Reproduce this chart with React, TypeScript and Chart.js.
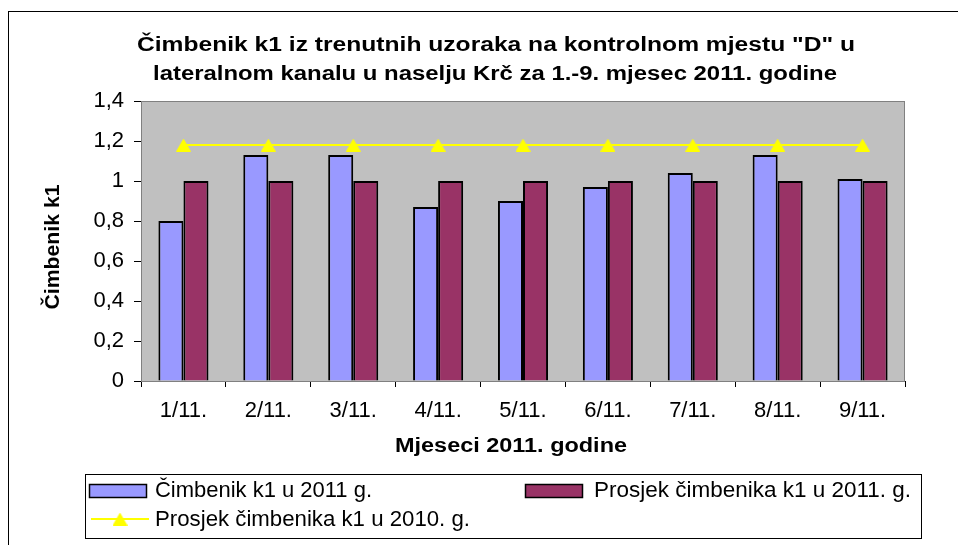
import React, { useEffect, useRef } from "react";
import { Chart, registerables } from "chart.js";
Chart.register(...registerables);

const categories = ["1/11.", "2/11.", "3/11.", "4/11.", "5/11.", "6/11.", "7/11.", "8/11.", "9/11."];
const k1Values2011 = [0.8, 1.13, 1.13, 0.87, 0.9, 0.97, 1.04, 1.13, 1.01];
const avgK1_2011 = [1, 1, 1, 1, 1, 1, 1, 1, 1];
const avgK1_2010 = [1.18, 1.18, 1.18, 1.18, 1.18, 1.18, 1.18, 1.18, 1.18];
const seriesNames = [
  "Čimbenik k1 u 2011 g.",
  "Prosjek čimbenika k1 u 2011. g.",
  "Prosjek čimbenika k1 u 2010. g.",
];
const titleLines = [
  "Čimbenik k1 iz trenutnih uzoraka na kontrolnom mjestu \"D\" u",
  "lateralnom kanalu u naselju Krč za 1.-9. mjesec 2011. godine",
];
const yAxisTitle = "Čimbenik k1";
const xAxisTitle = "Mjeseci 2011. godine";
const yMin = 0;
const yMax = 1.4;
const yStep = 0.2;

const FONT = '"Liberation Sans", Arial, sans-serif';
const BLUE = "#9999FF";
const MAROON = "#993366";
const YELLOW = "#FFFF00";

function makeTriangle(): HTMLCanvasElement {
  const c = document.createElement("canvas");
  c.width = 15;
  c.height = 13;
  const g = c.getContext("2d")!;
  g.fillStyle = YELLOW;
  g.beginPath();
  g.moveTo(7.5, 0);
  g.lineTo(15, 13);
  g.lineTo(0, 13);
  g.closePath();
  g.fill();
  return c;
}

function drawFitText(ctx: CanvasRenderingContext2D, text: string, cx: number, cy: number, font: string, target: number, rotate = 0, align: "center" | "left" = "center") {
  ctx.save();
  ctx.font = font;
  const w = ctx.measureText(text).width;
  ctx.translate(cx, cy);
  if (rotate) ctx.rotate(rotate);
  ctx.scale(target / w, 1);
  ctx.textAlign = align;
  ctx.textBaseline = "middle";
  ctx.fillStyle = "#000";
  ctx.fillText(text, 0, 0);
  ctx.restore();
}

const triangleImg = typeof document !== "undefined" ? makeTriangle() : (null as any);

const decorPlugin = {
  id: "decor",
  beforeDatasetsDraw(chart: any) {
    const { ctx, chartArea: a } = chart;
    ctx.save();
    ctx.fillStyle = "#C0C0C0";
    ctx.fillRect(a.left, a.top, a.right - a.left, a.bottom - a.top);
    ctx.strokeStyle = "#808080";
    ctx.lineWidth = 1;
    ctx.strokeRect(a.left + 0.5, a.top + 0.5, a.right - a.left - 1, a.bottom - a.top);
    ctx.restore();
  },
  afterDraw(chart: any) {
    const ctx: CanvasRenderingContext2D = chart.ctx;
    ctx.save();
    // outer frame
    ctx.strokeStyle = "#000";
    ctx.lineWidth = 1;
    ctx.strokeRect(8.5, 11.5, 3000, 3000);
    // title
    drawFitText(ctx, titleLines[0], 496, 45, `bold 20px ${FONT}`, 718);
    drawFitText(ctx, titleLines[1], 495, 74, `bold 20px ${FONT}`, 684);
    // axis titles
    drawFitText(ctx, xAxisTitle, 511, 446, `bold 20px ${FONT}`, 232);
    drawFitText(ctx, yAxisTitle, 53, 247, `bold 20px ${FONT}`, 125, -Math.PI / 2);
    // legend
    ctx.strokeStyle = "#000";
    ctx.lineWidth = 1;
    ctx.strokeRect(85.5, 474.5, 836, 64);
    ctx.fillStyle = BLUE;
    ctx.fillRect(89, 484, 58, 13);
    ctx.strokeStyle = "#000";
    ctx.lineWidth = 1.5;
    ctx.strokeRect(89.5, 484.5, 57, 13);
    ctx.fillStyle = MAROON;
    ctx.fillRect(525, 484, 58, 13);
    ctx.strokeRect(525.5, 484.5, 57, 13);
    drawFitText(ctx, seriesNames[0], 155, 491, `22px ${FONT}`, 217, 0, "left");
    drawFitText(ctx, seriesNames[1], 594, 491, `22px ${FONT}`, 317, 0, "left");
    ctx.strokeStyle = YELLOW;
    ctx.lineWidth = 2;
    ctx.beginPath();
    ctx.moveTo(91, 519);
    ctx.lineTo(149, 519);
    ctx.stroke();
    ctx.drawImage(triangleImg, 120 - 7.5, 519 - 6.5);
    drawFitText(ctx, seriesNames[2], 155, 520, `22px ${FONT}`, 315, 0, "left");
    ctx.restore();
  },
};

export default function App() {
  const ref = useRef<HTMLCanvasElement>(null);
  useEffect(() => {
    if (!ref.current) return;
    const chart = new Chart(ref.current, {
      type: "bar",
      data: {
        labels: categories,
        datasets: [
          {
            type: "line",
            label: seriesNames[2],
            data: avgK1_2010,
            borderColor: YELLOW,
            backgroundColor: YELLOW,
            borderWidth: 2,
            pointStyle: triangleImg,
            pointRadius: 7,
            order: 0,
          } as any,
          {
            label: seriesNames[0],
            data: k1Values2011,
            backgroundColor: BLUE,
            borderColor: "#000",
            borderWidth: 2,
            order: 1,
          },
          {
            label: seriesNames[1],
            data: avgK1_2011,
            backgroundColor: MAROON,
            borderColor: "#000",
            borderWidth: 2,
            order: 1,
          },
        ],
      },
      options: {
        animation: false,
        responsive: true,
        maintainAspectRatio: false,
        layout: { padding: { left: 0, top: 101, right: 53, bottom: 0 } },
        datasets: { bar: { categoryPercentage: 0.59, barPercentage: 1.0 } },
        plugins: {
          legend: { display: false },
          title: { display: false },
          tooltip: { enabled: false },
        },
        scales: {
          x: {
            grid: { drawOnChartArea: false, tickLength: 6, color: "#000", offset: true },
            border: { color: "#000", width: 1 },
            ticks: { color: "#000", font: { family: FONT, size: 22 }, padding: 11, maxRotation: 0 },
            afterFit: (s: any) => {
              s.height = 164;
            },
          },
          y: {
            min: yMin,
            max: yMax,
            grid: { drawOnChartArea: false, tickLength: 7, color: "#000" },
            border: { color: "#000", width: 1 },
            ticks: {
              stepSize: yStep,
              color: "#000",
              padding: 10,
              font: { family: FONT, size: 22 },
              callback: (v: any) => String(Math.round(Number(v) * 10) / 10).replace(".", ","),
            },
            afterFit: (s: any) => {
              s.width = 141;
            },
          },
        },
      },
      plugins: [decorPlugin],
    });
    return () => chart.destroy();
  }, []);
  return (
    <div style={{ position: "absolute", left: 0, top: 0, width: 958, height: 545, background: "#fff" }}>
      <canvas ref={ref} />
    </div>
  );
}
